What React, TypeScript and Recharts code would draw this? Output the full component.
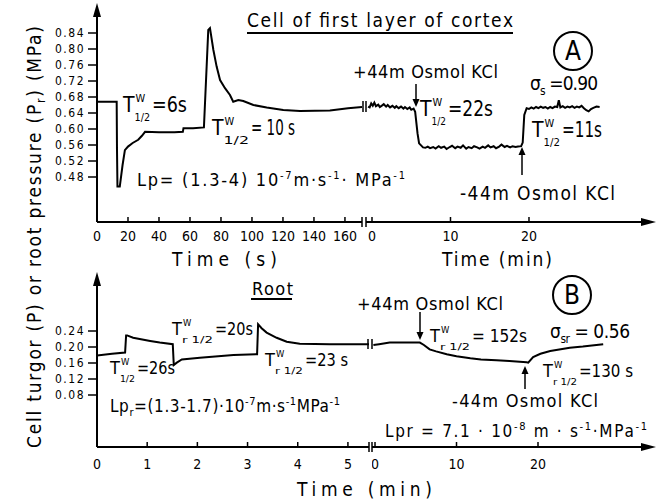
import React from 'react';
import { LineChart, Line, XAxis, YAxis } from 'recharts';

const FONT = "'DejaVu Sans Condensed', 'DejaVu Sans', sans-serif";

// Panel A (cell of first cortex layer), left part: time in s, P in MPa
const timeA1 = [0, 12.7, 12.9, 13.2, 14.7, 16.5, 18, 20, 23, 26.6, 29, 31, 40, 50, 55.4, 55.8, 62, 69, 71.8, 72.9, 75.1, 77.2, 79.4, 82.6, 85.8, 87.9, 91.2, 94.4, 100.9, 109.5, 120.2, 131, 150.3, 162, 171];
const pressA1 = [0.668, 0.668, 0.55, 0.456, 0.456, 0.51, 0.547, 0.556, 0.565, 0.573, 0.583, 0.593, 0.592, 0.592, 0.593, 0.602, 0.602, 0.604, 0.8475, 0.852, 0.7975, 0.756, 0.7225, 0.702, 0.685, 0.668, 0.6725, 0.67, 0.66, 0.654, 0.6475, 0.645, 0.646, 0.652, 0.655];

// Panel A, right part: time in min
const timeA2 = [-0.5, -0.3, -0.1, 0.1, 0.3, 0.5, 0.8, 1.0, 1.3, 1.5, 1.8, 2.0, 2.3, 2.6, 2.9, 3.1, 3.4, 3.7, 4.0, 4.2, 4.5, 4.8, 5.0, 5.3,
  5.5, 5.8, 6.0, 6.5,
  6.8, 7.1, 7.4, 7.8, 8.1, 8.5, 8.8, 9.2, 9.5, 9.9, 10.2, 10.6, 10.9, 11.3, 11.6, 12.0, 12.3, 12.7, 13.0, 13.4, 13.7, 14.1, 14.4, 14.8, 15.1, 15.5, 15.8, 16.2, 16.5, 16.9, 17.2, 17.6, 17.9, 18.3, 18.6, 19.0,
  19.2, 19.4, 19.7,
  20.0, 20.3, 20.6, 20.9, 21.2, 21.5, 21.8, 22.1, 22.4, 22.7, 23.0, 23.3, 23.6, 23.8, 24.0, 24.3, 24.6, 24.9, 25.2, 25.5, 25.8, 26.1, 26.4, 26.7, 27.0, 27.3, 27.6, 27.9, 28.2, 28.6, 29.0];
const pressA2 = [0.656, 0.654, 0.664, 0.658, 0.666, 0.657, 0.661, 0.655, 0.659, 0.662, 0.656, 0.660, 0.654, 0.658, 0.653, 0.657, 0.652, 0.656, 0.651, 0.655, 0.650, 0.654, 0.648, 0.651,
  0.643, 0.589, 0.564, 0.554,
  0.553, 0.556, 0.552, 0.555, 0.551, 0.557, 0.553, 0.556, 0.550, 0.555, 0.558, 0.552, 0.556, 0.553, 0.559, 0.551, 0.555, 0.552, 0.557, 0.554, 0.551, 0.556, 0.553, 0.559, 0.554, 0.557, 0.552, 0.556, 0.561, 0.555, 0.558, 0.554, 0.557, 0.555, 0.556, 0.557,
  0.566, 0.635, 0.652,
  0.650, 0.654, 0.651, 0.655, 0.652, 0.656, 0.653, 0.655, 0.651, 0.655, 0.652, 0.656, 0.655, 0.672, 0.654, 0.657, 0.653, 0.656, 0.654, 0.657, 0.653, 0.656, 0.654, 0.658, 0.652, 0.647, 0.644, 0.650, 0.653, 0.656, 0.655];

// Panel B (root), left part: time in min, root pressure in MPa
const timeB1 = [0, 0.3, 0.56, 0.58, 0.6, 0.72, 1.06, 1.25, 1.51, 1.53, 1.59, 1.69, 2.05, 2.72, 3.19, 3.21, 3.28, 3.38, 3.58, 3.78, 4.04, 4.64, 5.42];
const pressB1 = [0.179, 0.183, 0.186, 0.229, 0.229, 0.223, 0.215, 0.211, 0.207, 0.155, 0.161, 0.169, 0.173, 0.18, 0.182, 0.257, 0.247, 0.236, 0.223, 0.213, 0.208, 0.207, 0.207];

// Panel B, right part: time in min
const timeB2 = [-0.2, 0.5, 1.8, 3.5, 5.5, 6.0, 6.7, 7.5, 8.8, 10, 11.7, 13, 14.9, 16.5, 18.6, 18.8, 19.4, 20.3, 21.5, 23.9, 25.5, 28];
const pressB2 = [0.205, 0.207, 0.211, 0.211, 0.211, 0.205, 0.194, 0.189, 0.182, 0.177, 0.172, 0.169, 0.167, 0.165, 0.162, 0.161, 0.175, 0.183, 0.19, 0.198, 0.201, 0.207];

const ticksA1 = [0, 20, 40, 60, 80, 100, 120, 140, 160];
const ticksA2 = [0, 10, 20];
const ticksB1 = [0, 1, 2, 3, 4, 5];
const ticksB2 = [0, 10, 20];
const yTicksA = [0.48, 0.52, 0.56, 0.6, 0.64, 0.68, 0.72, 0.76, 0.8, 0.84];
const yTicksB = [0.08, 0.12, 0.16, 0.2, 0.24];

const zip = (t: number[], p: number[]) => t.map((x, i) => ({ t: x, p: p[i] }));

function XTick(props: any) {
  const { x, y, payload, off } = props;
  return (
    <g>
      <line x1={x} x2={x} y1={y} y2={y - 5} stroke="#000" strokeWidth={1.5} />
      <text x={x} y={y + off} textAnchor="middle" fontSize={14} fontFamily={FONT} fill="#000">{payload.value}</text>
    </g>
  );
}

function Segment({ left, top, width, height, data, xDomain, yDomain, xTicks, yTicks, showY, off }: any) {
  return (
    <div style={{ position: 'absolute', left, top }}>
      <LineChart width={width} height={height} data={data} margin={{ top: 0, right: 0, bottom: 0, left: 0 }}>
        <XAxis type="number" dataKey="t" domain={xDomain} ticks={xTicks} interval={0} allowDataOverflow height={30}
          tickSize={0} tickMargin={0} tickLine={false} axisLine={{ stroke: '#000', strokeWidth: 2 }}
          tick={(p: any) => <XTick {...p} off={off} />} />
        <YAxis type="number" domain={yDomain} ticks={yTicks} hide={!showY} width={60} allowDataOverflow interval={0}
          tickSize={9} tickMargin={3} tick={{ fontSize: 12, fill: '#000', fontFamily: FONT, letterSpacing: 1.5 }}
          tickFormatter={(v: number) => v.toFixed(2)} axisLine={{ stroke: '#000', strokeWidth: 2 }}
          tickLine={{ stroke: '#000', strokeWidth: 1.5 }} />
        <Line type="linear" dataKey="p" stroke="#000" strokeWidth={2} dot={false} isAnimationActive={false} />
      </LineChart>
    </div>
  );
}

// T^W with subscript 1/2 (or r 1/2), followed by the value text
function Thalf({ x, y, size, r, rest, restX, restW }: any) {
  const s = size * 0.52;
  const sx = x + size * 0.55;
  return (
    <g>
      <text x={x} y={y} fontSize={size}>T</text>
      <text x={sx + 1} y={y - size * 0.5} fontSize={s}>W</text>
      <text x={sx} y={y + size * 0.42} fontSize={s} textLength={restX - 2 - sx} lengthAdjust="spacingAndGlyphs">{r ? 'r 1/2' : '1/2'}</text>
      <text x={restX} y={y} fontSize={size} textLength={restW} lengthAdjust="spacingAndGlyphs">{rest}</text>
    </g>
  );
}

function VArrow({ x, from, to }: any) {
  const d = to > from ? 1 : -1;
  return (
    <g>
      <line x1={x} x2={x} y1={from} y2={to - d * 6} stroke="#000" strokeWidth={1.5} />
      <polygon points={`${x - 3.5},${to - d * 8} ${x + 3.5},${to - d * 8} ${x},${to}`} fill="#000" />
    </g>
  );
}

function Overlay() {
  const sup = (t: string, fs = 11) => <tspan dy={-7} fontSize={fs}>{t}</tspan>;
  const back = (t: string) => <tspan dy={7}>{t}</tspan>;
  return (
    <svg width={659} height={504} style={{ position: 'absolute', left: 0, top: 0, pointerEvents: 'none', fontStretch: 'condensed' }}
      fontFamily={FONT} fill="#000">
      {/* axis arrows */}
      <polygon points="93,17 101,17 97,3" />
      <polygon points="93,286 101,286 97,272" />
      <polygon points="641,218 641,226 656,222" />
      <polygon points="641,443 641,451 656,447" />
      {/* axis and line breaks */}
      <rect x={362} y={216} width={4} height={12} fill="#fff" />
      <line x1={362} x2={362} y1={217} y2={227} stroke="#000" strokeWidth={1.5} />
      <line x1={366} x2={366} y1={217} y2={227} stroke="#000" strokeWidth={1.5} />
      <line x1={363} x2={363} y1={101} y2={112} stroke="#000" strokeWidth={1.5} />
      <line x1={366} x2={366} y1={101} y2={112} stroke="#000" strokeWidth={1.5} />
      <rect x={369} y={441} width={3} height={12} fill="#fff" />
      <line x1={369} x2={369} y1={442} y2={452} stroke="#000" strokeWidth={1.5} />
      <line x1={372} x2={372} y1={442} y2={452} stroke="#000" strokeWidth={1.5} />
      <line x1={368} x2={368} y1={339} y2={349} stroke="#000" strokeWidth={1.5} />
      <line x1={372} x2={372} y1={339} y2={349} stroke="#000" strokeWidth={1.5} />

      {/* y-axis title */}
      <text transform="translate(41,237) rotate(-90)" textAnchor="middle" fontSize={19} textLength={422}>
        Cell turgor (P) or root pressure (P<tspan dy={4} fontSize={12}>r</tspan><tspan dy={-4}>) (MPa)</tspan>
      </text>

      {/* panel A */}
      <text x={247} y={27} fontSize={19} textLength={266}>Cell of first layer of cortex</text>
      <line x1={247} x2={513} y1={33} y2={33} stroke="#000" strokeWidth={2} />
      <circle cx={573} cy={51} r={19} fill="none" stroke="#000" strokeWidth={2} />
      <text x={573} y={60} fontSize={26} textAnchor="middle">A</text>
      <Thalf x={123} y={112} size={21} rest="=6s" restX={152} restW={35} />
      <Thalf x={212} y={135} size={21} rest="= 10 s" restX={251} restW={44} />
      <text x={137} y={186} fontSize={18} textLength={268}>Lp= (1.3-4) 10{sup('-7')}{back('m·s')}{sup('-1')}{back('· MPa')}{sup('-1')}</text>
      <text x={353} y={78} fontSize={18} textLength={145}>+44m Osmol KCl</text>
      <VArrow x={416} from={84} to={107} />
      <Thalf x={420} y={116} size={21} rest="=22s" restX={448} restW={45} />
      <text x={530} y={90} fontSize={19} textLength={68}>σ<tspan dy={5} fontSize={12}>s</tspan><tspan dy={-5}> =0.90</tspan></text>
      <Thalf x={532} y={137} size={21} rest="=11s" restX={562} restW={40} />
      <VArrow x={522} from={175} to={147} />
      <text x={460} y={200} fontSize={19} textLength={155}>-44m Osmol KCl</text>
      <text x={172} y={266} fontSize={19} textLength={105}>Time (s)</text>
      <text x={442} y={266} fontSize={19} textLength={110}>Time (min)</text>

      {/* panel B */}
      <text x={252} y={295} fontSize={18} textLength={41}>Root</text>
      <line x1={251} x2={292} y1={299} y2={299} stroke="#000" strokeWidth={2} />
      <circle cx={572} cy={295} r={19} fill="none" stroke="#000" strokeWidth={2} />
      <text x={572} y={304} fontSize={26} textAnchor="middle">B</text>
      <Thalf x={110} y={374} size={18} rest="=26s" restX={137} restW={38} />
      <Thalf x={172} y={335} size={18} r rest="=20s" restX={215} restW={38} />
      <Thalf x={265} y={366} size={18} r rest="=23 s" restX={305} restW={43} />
      <text x={110} y={412} fontSize={17} textLength={230}>Lp<tspan dy={4} fontSize={11}>r</tspan><tspan dy={-4}>=(1.3-1.7)·10</tspan>{sup('-7')}{back('m·s')}{sup('-1')}{back('MPa')}{sup('-1')}</text>
      <text x={357} y={310} fontSize={18} textLength={146}>+44m Osmol KCl</text>
      <VArrow x={420} from={312} to={340} />
      <Thalf x={430} y={342} size={18} r rest="= 152s" restX={472} restW={55} />
      <text x={550} y={338} fontSize={19} textLength={80}>σ<tspan dy={5} fontSize={12}>sr</tspan><tspan dy={-5}> = 0.56</tspan></text>
      <Thalf x={543} y={377} size={18} r rest="=130 s" restX={579} restW={54} />
      <VArrow x={525} from={389} to={366} />
      <text x={452} y={407} fontSize={18} textLength={146}>-44m Osmol KCl</text>
      <text x={385} y={437} fontSize={17} textLength={262}>Lpr  =  7.1 · 10{sup('-8')}{back(' m · s')}{sup('-1')}{back('·MPa')}{sup('-1')}</text>
      <text x={297} y={496} fontSize={19} textLength={135}>Time  (min)</text>
    </svg>
  );
}

export default function App() {
  return (
    <div style={{ position: 'absolute', left: 0, top: 0, width: 659, height: 504, background: '#fff', fontFamily: FONT }}>
      <Segment left={37} top={14} width={325} height={238} data={zip(timeA1, pressA1)} xDomain={[0, 171]}
        yDomain={[0.3675, 0.8875]} xTicks={ticksA1} yTicks={yTicksA} showY off={19} />
      <Segment left={366} top={14} width={279} height={238} data={zip(timeA2, pressA2)} xDomain={[-0.764, 34.78]}
        yDomain={[0.3675, 0.8875]} xTicks={ticksA2} yTicks={yTicksA} showY={false} off={19} />
      <Segment left={37} top={282} width={332} height={195} data={zip(timeB1, pressB1)} xDomain={[0, 5.42]}
        yDomain={[-0.05, 0.3625]} xTicks={ticksB1} yTicks={yTicksB} showY off={22} />
      <Segment left={372} top={282} width={273} height={195} data={zip(timeB2, pressB2)} xDomain={[-0.37, 33.13]}
        yDomain={[-0.05, 0.3625]} xTicks={ticksB2} yTicks={yTicksB} showY={false} off={22} />
      <Overlay />
    </div>
  );
}
